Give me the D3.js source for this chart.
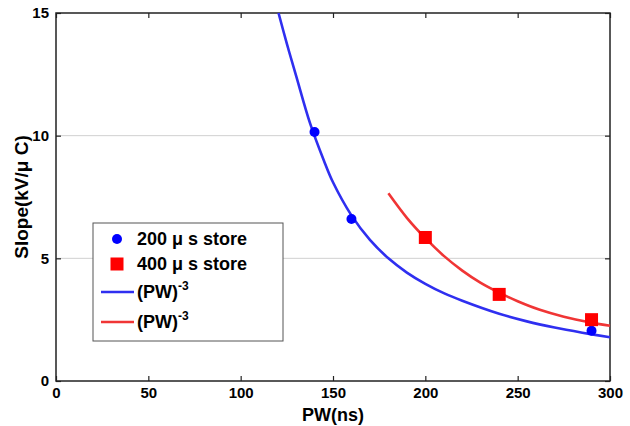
<!DOCTYPE html>
<html>
<head>
<meta charset="utf-8">
<script src="https://cdn.jsdelivr.net/npm/d3@7"></script>
<style>
  body { margin: 0; background: #fff; }
  text { font-family: "Liberation Sans", Arial, sans-serif; font-weight: bold; }
</style>
</head>
<body>
<div id="chart"></div>
<script>
// data
const store200PW = [140, 160, 290]
const store200Slope = [10.15, 6.6, 2.05]
const store400PW = [200, 240, 290]
const store400Slope = [5.85, 3.53, 2.5]

// fitted (PW)^-3 curves, sampled from the figure
const fitBluePW = [120.5, 125, 130, 137.6, 145, 150, 160, 170, 180, 190, 200, 210, 220, 240, 255, 270, 285, 300]
const fitBlueSlope = [15, 13.75, 12.45, 10.5, 9.0, 8.1, 6.75, 5.75, 5.0, 4.42, 3.96, 3.58, 3.27, 2.74, 2.43, 2.18, 1.97, 1.78]
const fitRedPW = [180, 190, 200, 210, 220, 230, 240, 250, 262, 275, 290, 300]
const fitRedSlope = [7.65, 6.65, 5.82, 5.1, 4.5, 4.0, 3.6, 3.25, 2.9, 2.62, 2.38, 2.25]

const xTicks = [0, 50, 100, 150, 200, 250, 300]
const yTicks = [0, 5, 10, 15]
const legendLabels = ["200 \u03bc s store", "400 \u03bc s store", "(PW)", "(PW)"]

const zip = (xs, ys) => xs.map((x, i) => ({ x: x, y: ys[i] }))

let dimensions = {
  width: 630,
  height: 426,
  margin: { top: 13, right: 20, bottom: 45, left: 56 }
}
dimensions.ctrWidth = dimensions.width - dimensions.margin.left - dimensions.margin.right
dimensions.ctrHeight = dimensions.height - dimensions.margin.top - dimensions.margin.bottom

const svg = d3.select("#chart")
  .append("svg")
  .attr("width", dimensions.width)
  .attr("height", dimensions.height)

const ctr = svg.append("g")
  .attr("transform", `translate(${dimensions.margin.left}, ${dimensions.margin.top})`)

// scales
const xScale = d3.scaleLinear().domain([0, 300]).range([0, dimensions.ctrWidth])
const yScale = d3.scaleLinear().domain([0, 15]).range([dimensions.ctrHeight, 0])

// grid lines
ctr.append("g")
  .selectAll("line")
  .data(yTicks.filter(d => d > 0 && d < 15))
  .join("line")
  .attr("x1", 0)
  .attr("x2", dimensions.ctrWidth)
  .attr("y1", d => yScale(d))
  .attr("y2", d => yScale(d))
  .attr("stroke", "#d0d0d0")
  .attr("stroke-width", 1)

// axes (ticks point inward)
const styleAxis = g => {
  g.select(".domain").remove()
  g.selectAll(".tick line").attr("stroke", "#222").attr("stroke-width", 1.2)
  g.selectAll(".tick text").attr("fill", "#000").style("font-size", "15px").style("font-weight", "bold")
}

ctr.append("g")
  .attr("transform", `translate(0, ${dimensions.ctrHeight})`)
  .call(d3.axisBottom(xScale).tickValues(xTicks).tickSizeInner(-5).tickSizeOuter(0).tickPadding(6))
  .call(styleAxis)

ctr.append("g")
  .call(d3.axisTop(xScale).tickValues(xTicks).tickSizeInner(-5).tickSizeOuter(0).tickFormat(""))
  .call(styleAxis)

ctr.append("g")
  .call(d3.axisLeft(yScale).tickValues(yTicks).tickSizeInner(-5).tickSizeOuter(0).tickPadding(7))
  .call(styleAxis)

ctr.append("g")
  .attr("transform", `translate(${dimensions.ctrWidth}, 0)`)
  .call(d3.axisRight(yScale).tickValues(yTicks).tickSizeInner(-5).tickSizeOuter(0).tickFormat(""))
  .call(styleAxis)

// frame
ctr.append("rect")
  .attr("width", dimensions.ctrWidth)
  .attr("height", dimensions.ctrHeight)
  .attr("fill", "none")
  .attr("stroke", "#222")
  .attr("stroke-width", 1.5)

// axis titles
svg.append("text")
  .attr("x", dimensions.margin.left + dimensions.ctrWidth / 2)
  .attr("y", 421)
  .attr("text-anchor", "middle")
  .style("font-size", "18px")
  .text("PW(ns)")

svg.append("text")
  .attr("transform", `translate(28, ${dimensions.margin.top + dimensions.ctrHeight / 2}) rotate(-90)`)
  .attr("text-anchor", "middle")
  .style("font-size", "19px")
  .text("Slope(kV/\u03bc C)")

// fitted curves
const line = d3.line()
  .x(d => xScale(d.x))
  .y(d => yScale(d.y))
  .curve(d3.curveCatmullRom.alpha(0.5))

ctr.append("path")
  .datum(zip(fitBluePW, fitBlueSlope))
  .attr("d", line)
  .attr("fill", "none")
  .attr("stroke", "#2f2ff0")
  .attr("stroke-width", 2.6)

ctr.append("path")
  .datum(zip(fitRedPW, fitRedSlope))
  .attr("d", line)
  .attr("fill", "none")
  .attr("stroke", "#f03535")
  .attr("stroke-width", 2.6)

// measured points
ctr.append("g")
  .selectAll("circle")
  .data(zip(store200PW, store200Slope))
  .join("circle")
  .attr("cx", d => xScale(d.x))
  .attr("cy", d => yScale(d.y))
  .attr("r", 5)
  .attr("fill", "#0000ff")

const sq = 13
ctr.append("g")
  .selectAll("rect")
  .data(zip(store400PW, store400Slope))
  .join("rect")
  .attr("x", d => xScale(d.x) - sq / 2)
  .attr("y", d => yScale(d.y) - sq / 2)
  .attr("width", sq)
  .attr("height", sq)
  .attr("fill", "#ff0000")

// legend
const legend = svg.append("g").attr("transform", "translate(93, 223)")
legend.append("rect")
  .attr("width", 190)
  .attr("height", 118)
  .attr("fill", "#fff")
  .attr("stroke", "#555")
  .attr("stroke-width", 1)

const rowY = [16, 41, 69, 99]
legend.append("circle").attr("cx", 24).attr("cy", rowY[0]).attr("r", 5).attr("fill", "#0000ff")
legend.append("rect").attr("x", 24 - 6.5).attr("y", rowY[1] - 6.5).attr("width", 13).attr("height", 13).attr("fill", "#ff0000")
legend.append("line").attr("x1", 8).attr("x2", 41).attr("y1", rowY[2]).attr("y2", rowY[2])
  .attr("stroke", "#2f2ff0").attr("stroke-width", 2.6)
legend.append("line").attr("x1", 8).attr("x2", 41).attr("y1", rowY[3]).attr("y2", rowY[3])
  .attr("stroke", "#f03535").attr("stroke-width", 2.6)

legendLabels.forEach((label, i) => {
  const t = legend.append("text")
    .attr("x", 44)
    .attr("y", rowY[i] + 6)
    .style("font-size", "18px")
    .text(label)
  if (i >= 2) {
    t.append("tspan")
      .attr("dy", -8)
      .style("font-size", "12px")
      .text("-3")
  }
})
</script>
</body>
</html>
